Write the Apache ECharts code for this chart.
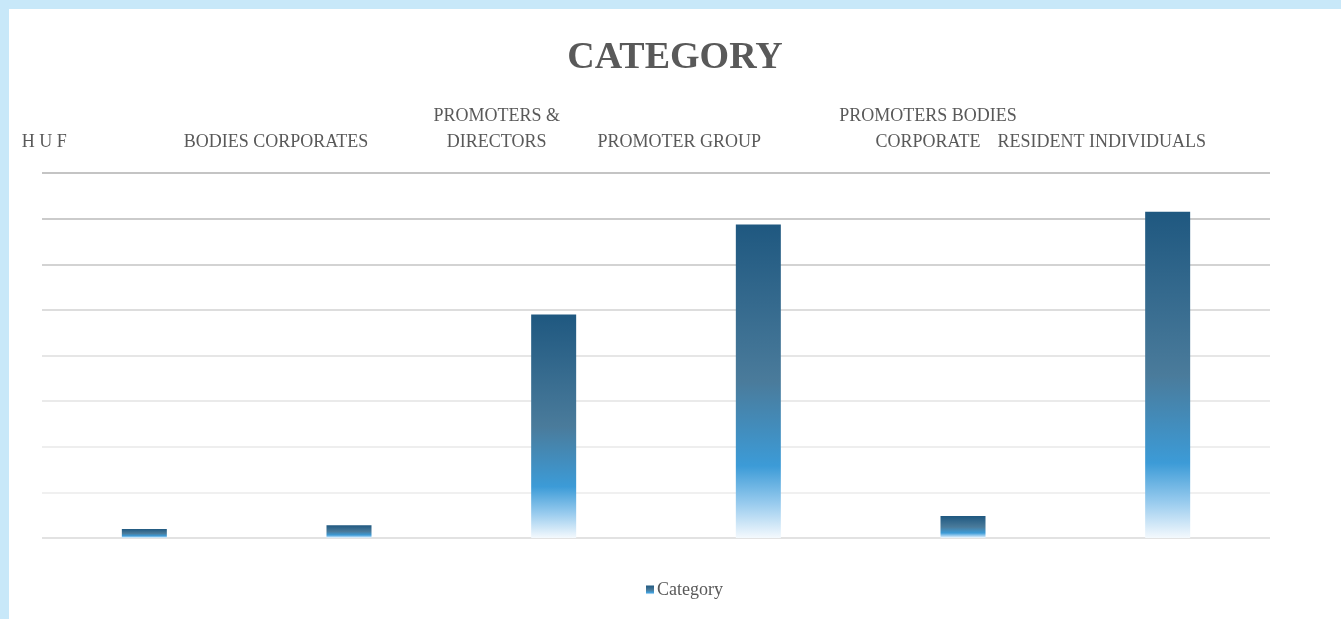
<!DOCTYPE html>
<html>
<head>
<meta charset="utf-8">
<script src="https://cdn.jsdelivr.net/npm/echarts@6/dist/echarts.min.js"></script>
<style>
  html, body { margin: 0; padding: 0; width: 1341px; height: 619px; background: #c8e8f9; overflow: hidden; }
  #chart { position: absolute; left: 9px; top: 9px; width: 1332px; height: 610px; background: #ffffff; }
</style>
</head>
<body>
<div id="chart"></div>
<script>
// ---- data ----
const categories = ['H U F', 'BODIES CORPORATES', 'PROMOTERS &\nDIRECTORS', 'PROMOTER GROUP', 'PROMOTERS BODIES\nCORPORATE', 'RESIDENT INDIVIDUALS'];
const values = [0.2, 0.28, 4.9, 6.87, 0.48, 7.15];
const seriesName = 'Category';
const titleText = 'CATEGORY';

// ---- styling (label horizontal shifts, px) ----
const labelShift = [-100, -73, -57, -79, -35, -66];

const chart = echarts.init(document.getElementById('chart'), null, { renderer: 'canvas' });

const catData = categories.map((c, i) => {
  const d = labelShift[i];
  return {
    value: c,
    textStyle: { padding: d < 0 ? [0, -2 * d, 0, 0] : [0, 0, 0, 2 * d] }
  };
});

const option = {
  animation: false,
  title: {
    text: titleText,
    left: 'center',
    top: 25,
    textStyle: { fontFamily: 'Liberation Serif', fontSize: 38, fontWeight: 'bold', color: '#595959' }
  },
  legend: {
    data: [seriesName],
    left: 632,
    top: 567,
    icon: 'rect',
    itemWidth: 8,
    itemHeight: 9,
    itemGap: 6,
    textStyle: { fontFamily: 'Liberation Serif', fontSize: 18, color: '#595959', padding: [0, 0, 0, -2] }
  },
  grid: { left: 33, top: 164, width: 1228, height: 365, containLabel: false },
  xAxis: {
    type: 'category',
    position: 'top',
    data: catData,
    axisLine: { show: false },
    axisTick: { show: false },
    axisLabel: {
      interval: 0,
      margin: 18,
      fontFamily: 'Liberation Serif',
      fontSize: 18,
      color: '#595959',
      lineHeight: 26,
      align: 'center'
    }
  },
  yAxis: {
    type: 'value',
    min: 0,
    max: 8,
    interval: 1,
    axisLabel: { show: false },
    axisLine: { show: false },
    axisTick: { show: false },
    splitLine: {
      lineStyle: {
        width: 2,
        color: ['#e2e2e2', '#f0f0f0', '#eeeeee', '#eaeaea', '#e6e6e6', '#dddddd', '#d3d3d3', '#cbcbcb', '#c4c4c4']
      }
    }
  },
  series: [{
    name: seriesName,
    type: 'bar',
    data: values,
    barWidth: 45,
    itemStyle: {
      color: new echarts.graphic.LinearGradient(0, 0, 0, 1, [
        { offset: 0, color: '#1f5880' },
        { offset: 0.5, color: '#4a7b9b' },
        { offset: 0.77, color: '#3c9bd7' },
        { offset: 0.89, color: '#98cbee' },
        { offset: 1, color: '#f4f9fd' }
      ])
    }
  }]
};

chart.setOption(option);
</script>
</body>
</html>
